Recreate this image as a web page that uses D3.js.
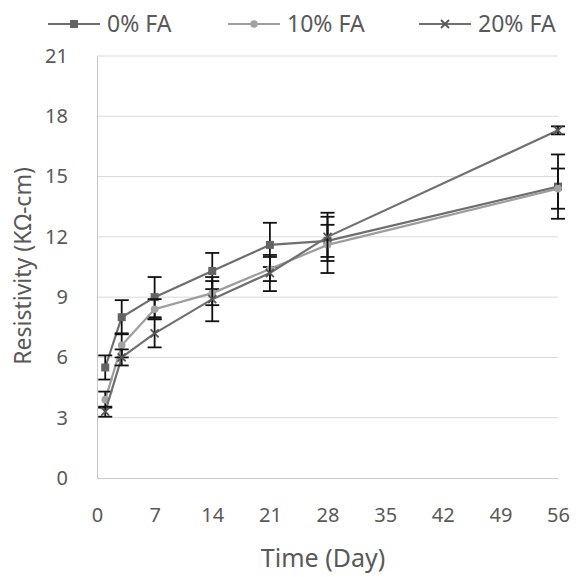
<!DOCTYPE html>
<html>
<head>
<meta charset="utf-8">
<script src="https://cdn.jsdelivr.net/npm/d3@7"></script>
<style>
  body { margin: 0; background: #fff; }
  text { font-family: "Noto Sans", "Open Sans", sans-serif; }
</style>
</head>
<body>
<script>
'use strict';

// days of measurement
const days = [1, 3, 7, 14, 21, 28, 56];
// resistivity (KOhm-cm) and error bar half-widths
const fa0 = [5.5, 8.0, 9.0, 10.3, 11.6, 11.8, 14.5];
const fa0Err = [0.6, 0.85, 1.0, 0.9, 1.1, 0.8, 1.6];
const fa10 = [3.9, 6.6, 8.4, 9.2, 10.4, 11.6, 14.4];
const fa10Err = [0.4, 0.6, 0.5, 0.6, 0.6, 1.4, 1.0];
const fa20 = [3.3, 6.0, 7.2, 8.9, 10.2, 12.0, 17.3];
const fa20Err = [0.25, 0.4, 0.7, 1.1, 0.9, 1.2, 0.2];
const seriesNames = ["0% FA", "10% FA", "20% FA"];
const xTicks = [0, 7, 14, 21, 28, 35, 42, 49, 56];
const yTicks = [0, 3, 6, 9, 12, 15, 18, 21];

const series = [
  { name: seriesNames[0], values: fa0, err: fa0Err, line: "#6e6e6e", marker: "square", fill: "#636363" },
  { name: seriesNames[1], values: fa10, err: fa10Err, line: "#9d9d9d", marker: "circle", fill: "#a3a3a3" },
  { name: seriesNames[2], values: fa20, err: fa20Err, line: "#707070", marker: "cross", fill: "#555555" }
];

const svg = d3.select("body").append("svg")
  .attr("width", 576)
  .attr("height", 577);

const x = d3.scaleLinear().domain([0, 56]).range([97, 558]);
const y = d3.scaleLinear().domain([0, 21]).range([478, 56]);

// gridlines
svg.append("g")
  .selectAll("line")
  .data(yTicks.slice(1))
  .enter()
  .append("line")
    .attr("x1", x(0)).attr("x2", x(56))
    .attr("y1", d => y(d)).attr("y2", d => y(d))
    .attr("stroke", "#d9d9d9")
    .attr("stroke-width", 1);

// axes
const xAxis = d3.axisBottom(x).tickValues(xTicks).tickSize(0).tickPadding(30);
svg.append("g")
  .attr("transform", "translate(0," + y(0) + ")")
  .call(xAxis)
  .call(g => g.select(".domain").attr("stroke", "#c8c8c8"))
  .call(g => g.selectAll("text").attr("fill", "#595959").attr("font-size", "20px"));

const yAxis = d3.axisLeft(y).tickValues(yTicks).tickSize(0).tickPadding(29);
svg.append("g")
  .attr("transform", "translate(" + x(0) + ",0)")
  .call(yAxis)
  .call(g => g.select(".domain").attr("stroke", "#c8c8c8"))
  .call(g => g.selectAll("text").attr("fill", "#595959").attr("font-size", "20px"));

// axis titles
svg.append("text")
  .attr("x", 323).attr("y", 567)
  .attr("text-anchor", "middle")
  .attr("fill", "#595959")
  .attr("font-size", "25px")
  .text("Time (Day)");

svg.append("text")
  .attr("transform", "translate(31,266) rotate(-90)")
  .attr("text-anchor", "middle")
  .attr("fill", "#595959")
  .attr("font-size", "23px")
  .text("Resistivity (KΩ-cm)");

const line = d3.line()
  .x((d, i) => x(days[i]))
  .y(d => y(d));

function drawMarker(g, type, fill, cx, cy) {
  if (type === "square") {
    g.append("rect")
      .attr("x", cx - 4).attr("y", cy - 4)
      .attr("width", 8).attr("height", 8)
      .attr("fill", fill);
  } else if (type === "circle") {
    g.append("circle")
      .attr("cx", cx).attr("cy", cy).attr("r", 3.8)
      .attr("fill", fill);
  } else {
    g.append("path")
      .attr("d", "M" + (cx - 4) + "," + (cy - 4) + "L" + (cx + 4) + "," + (cy + 4) +
                 "M" + (cx - 4) + "," + (cy + 4) + "L" + (cx + 4) + "," + (cy - 4))
      .attr("stroke", fill)
      .attr("stroke-width", 1.8)
      .attr("fill", "none");
  }
}

series.forEach(s => {
  const g = svg.append("g");
  g.append("path")
    .datum(s.values)
    .attr("d", line)
    .attr("fill", "none")
    .attr("stroke", s.line)
    .attr("stroke-width", 2.2);

  // error bars
  s.values.forEach((v, i) => {
    const cx = x(days[i]);
    const top = y(v + s.err[i]);
    const bot = y(v - s.err[i]);
    g.append("line")
      .attr("x1", cx).attr("x2", cx).attr("y1", top).attr("y2", bot)
      .attr("stroke", "#111").attr("stroke-width", 1.8);
    [top, bot].forEach(yy => {
      g.append("line")
        .attr("x1", cx - 7).attr("x2", cx + 7).attr("y1", yy).attr("y2", yy)
        .attr("stroke", "#111").attr("stroke-width", 1.8);
    });
  });

  s.values.forEach((v, i) => drawMarker(g, s.marker, s.fill, x(days[i]), y(v)));
});

// legend
const legendX = [48, 228, 419];
series.forEach((s, i) => {
  const g = svg.append("g").attr("transform", "translate(" + legendX[i] + ",24)");
  g.append("line")
    .attr("x1", 0).attr("x2", 52).attr("y1", 0).attr("y2", 0)
    .attr("stroke", s.line).attr("stroke-width", 2.2);
  drawMarker(g, s.marker, s.fill, 26, 0);
  g.append("text")
    .attr("x", 59).attr("y", 0)
    .attr("dy", "0.35em")
    .attr("fill", "#595959")
    .attr("font-size", "23px")
    .text(s.name);
});
</script>
</body>
</html>
